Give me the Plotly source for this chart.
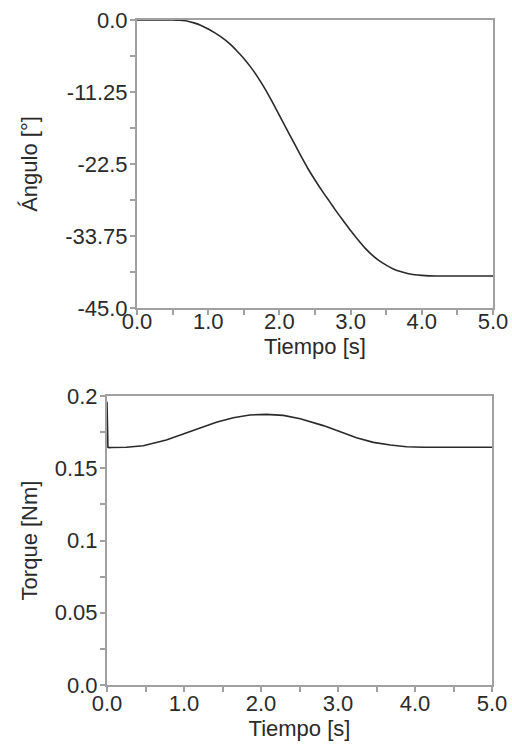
import plotly.graph_objects as go

# Angle response (top panel)
t_ang = [0.0, 0.5, 0.6, 0.7, 0.8, 0.9, 1.0, 1.1, 1.2, 1.3, 1.4, 1.5, 1.6, 1.7, 1.8, 1.9, 2.0, 2.1, 2.2, 2.3,
         2.4, 2.5, 2.6, 2.7, 2.8, 2.9, 3.0, 3.1, 3.2, 3.3, 3.4, 3.5, 3.6, 3.7, 3.8, 3.9, 4.0, 4.2, 5.0]
angle = [0.0, 0.0, -0.05, -0.15, -0.45, -0.85, -1.4, -2.05, -2.8, -3.7, -4.8, -6.0, -7.4, -9.0, -10.8, -12.8,
         -14.9, -17.0, -19.1, -21.2, -23.2, -25.0, -26.7, -28.3, -29.9, -31.4, -32.9, -34.3, -35.6, -36.7,
         -37.6, -38.3, -38.9, -39.3, -39.6, -39.8, -39.9, -40.0, -40.0]

# Torque (bottom panel)
t_tor = [0.0, 0.012, 0.03, 0.057, 0.25, 0.47, 0.77, 0.99, 1.205, 1.42, 1.64, 1.855, 2.07, 2.29, 2.51, 2.81, 3.03, 3.24, 3.46, 3.68, 3.89, 4.11, 4.5, 5.0]
torque = [0.196, 0.1645, 0.1643, 0.1644, 0.1645, 0.1656, 0.1695, 0.1735, 0.1776, 0.1818, 0.1850, 0.1869, 0.1873, 0.1866, 0.1843, 0.1795, 0.1753, 0.1711, 0.1679, 0.1661, 0.1649, 0.1645, 0.1645, 0.1645]

x_ticks = [0, 1, 2, 3, 4, 5]
x_ticktext = ["0.0", "1.0", "2.0", "3.0", "4.0", "5.0"]
ang_ticks = [0, -11.25, -22.5, -33.75, -45]
ang_ticktext = ["0.0", "-11.25", "-22.5", "-33.75", "-45.0"]
tor_ticks = [0, 0.05, 0.1, 0.15, 0.2]
tor_ticktext = ["0.0", "0.05", "0.1", "0.15", "0.2"]

W, H = 512, 746
FONT = dict(family="Liberation Sans, Arial, sans-serif", size=22, color="#2a2a2a")
AX = "#a0a0a0"
LINE = "#2a2a2a"

fig = go.Figure()
fig.add_trace(go.Scatter(x=t_ang, y=angle, mode="lines", line=dict(color=LINE, width=1.6, shape="spline", smoothing=0.5),
                         xaxis="x", yaxis="y", showlegend=False))
fig.add_trace(go.Scatter(x=t_tor, y=torque, mode="lines", line=dict(color=LINE, width=1.6),
                         xaxis="x2", yaxis="y2", showlegend=False))

def xax(domain, anchor, lab_so, title_so):
    return dict(domain=domain, anchor=anchor, range=[0, 5], tickvals=x_ticks, ticktext=x_ticktext,
                automargin=False,
                showgrid=False, zeroline=False, showline=True, linecolor=AX, linewidth=2, mirror=True,
                ticks="outside", ticklen=5, tickwidth=1.5, tickcolor=AX,
                minor=dict(dtick=0.5, tick0=0, ticks="outside", ticklen=5, tickwidth=1.5, tickcolor=AX),
                ticklabelstandoff=lab_so,
                tickfont=FONT, title=dict(text="Tiempo [s]", font=FONT, standoff=title_so))

def yax(domain, anchor, rng, tv, tt, mdt, title, st):
    return dict(domain=domain, anchor=anchor, range=rng, tickvals=tv, ticktext=tt,
                automargin=False,
                showgrid=False, zeroline=False, showline=True, linecolor=AX, linewidth=2, mirror=True,
                ticks="outside", ticklen=5, tickwidth=1.5, tickcolor=AX,
                minor=dict(dtick=mdt, tick0=0, ticks="outside", ticklen=5, tickwidth=1.5, tickcolor=AX),
                ticklabelstandoff=-2,
                tickfont=FONT, title=dict(text=title, font=FONT, standoff=st))

fig.update_layout(
    width=W, height=H, margin=dict(l=0, r=0, t=0, b=0),
    paper_bgcolor="white", plot_bgcolor="white",
    xaxis=xax([137 / W, 493 / W], "y", -12, 0),
    yaxis=yax([1 - 308 / H, 1 - 20 / H], "x", [-45, 0], ang_ticks, ang_ticktext, 5.625, "Ángulo [°]", 22),
    xaxis2=xax([107 / W, 492 / W], "y2", -7, 4),
    yaxis2=yax([1 - 685 / H, 1 - 396 / H], "x2", [0, 0.2], tor_ticks, tor_ticktext, 0.025, "Torque [Nm]", 11),
)

fig.write_html("out.html")
